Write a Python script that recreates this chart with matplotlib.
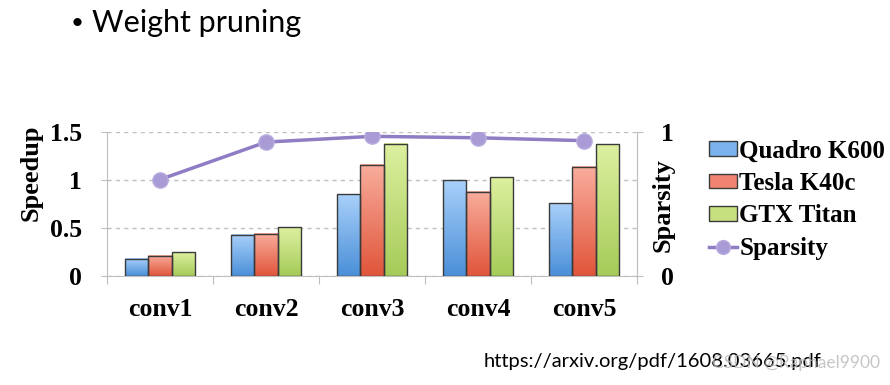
import matplotlib
matplotlib.use("Agg")
import matplotlib.pyplot as plt
from matplotlib.colors import LinearSegmentedColormap
from matplotlib.patches import Patch
from matplotlib.lines import Line2D
import numpy as np

layers = ["conv1", "conv2", "conv3", "conv4", "conv5"]
quadro = [0.18, 0.43, 0.85, 1.00, 0.76]
tesla = [0.21, 0.44, 1.16, 0.88, 1.14]
titan = [0.25, 0.51, 1.38, 1.03, 1.37]
sparsity = [0.67, 0.93, 0.97, 0.96, 0.94]
names = ["Quadro K600", "Tesla K40c", "GTX Titan"]

# (bottom, top) gradient colours for each series
grads = [("#4a8fd8", "#a9d0fa"), ("#e0553a", "#f9ad9d"), ("#a5cb58", "#ddf0a0")]
solid = ["#7ab2ee", "#f08470", "#c6e07f"]

serif = "Liberation Serif"
grey = "#bfbfbf"

fig = plt.figure(figsize=(8.9, 3.85), dpi=100)
ax = fig.add_axes([0.1202, 0.2831, 0.5955, 0.374])

x = np.arange(len(layers))
w = 0.222
series = [quadro, tesla, titan]
grad = np.linspace(0, 1, 256).reshape(-1, 1)
for i, vals in enumerate(series):
    cmap = LinearSegmentedColormap.from_list("g%d" % i, grads[i])
    pos = x + (i - 1) * w
    for px, v in zip(pos, vals):
        ax.imshow(grad, extent=[px - w / 2, px + w / 2, 0, v], origin="lower",
                  aspect="auto", cmap=cmap, zorder=2)
    ax.bar(pos, vals, w, facecolor="none", edgecolor="#3a3a3a", lw=1, zorder=3)

ax.set_xlim(-0.5, 4.5)
ax.set_ylim(0, 1.5)
ax.set_yticks([0, 0.5, 1, 1.5])
ax.set_yticklabels(["0", "0.5", "1", "1.5"], fontfamily=serif, fontweight="bold", fontsize=18.5)
ax.set_xticks(np.arange(-0.5, 5, 1))
ax.set_xticklabels([])
ax.set_xticks(x, minor=True)
ax.set_xticklabels(layers, minor=True, fontfamily=serif, fontweight="bold", fontsize=18.5)
ax.tick_params(axis="x", which="major", length=6, color=grey, direction="out")
ax.tick_params(axis="x", which="minor", length=0, pad=16)
ax.tick_params(axis="y", length=4, color=grey, direction="out", pad=14)
ax.spines["top"].set_visible(False)
for s in ["left", "bottom", "right"]:
    ax.spines[s].set_color(grey)
ax.yaxis.grid(True, ls=(0, (3, 3)), color=grey, lw=1)
ax.set_axisbelow(True)
ax.set_ylabel("Speedup", fontfamily=serif, fontweight="bold", fontsize=19)
ax.yaxis.set_label_coords(-0.121, 0.715)

ax2 = ax.twinx()
ax2.plot(x, sparsity, color="#8f7cc4", lw=2.5, marker="o", ms=11,
         mfc="#a99bd6", mec="#b9addf", mew=1, zorder=5)
ax2.set_ylim(0, 1)
ax2.set_yticks([0, 1])
ax2.set_yticklabels(["0", "1"], fontfamily=serif, fontweight="bold", fontsize=18.5)
ax2.tick_params(axis="y", length=4, color=grey, pad=13)
for s in ["top", "left", "bottom"]:
    ax2.spines[s].set_visible(False)
ax2.spines["right"].set_color(grey)
ax2.set_ylabel("Sparsity", fontfamily=serif, fontweight="bold", fontsize=19)
ax2.yaxis.set_label_coords(1.028, 0.49)

handles = [Patch(facecolor=solid[i], edgecolor="#3a3a3a", lw=1) for i in range(3)]
handles.append(Line2D([], [], color="#8f7cc4", lw=2.5, marker="o", ms=10,
                      mfc="#a99bd6", mec="#b9addf"))
fig.legend(handles, names + ["Sparsity"], loc="upper left", bbox_to_anchor=(0.797, 0.638),
           frameon=False, prop={"family": serif, "weight": "bold", "size": 18},
           handlelength=1.1, handleheight=0.5, handletextpad=0.1, labelspacing=0.38,
           borderpad=0, borderaxespad=0)

fig.text(0.079, 0.94, "\u2022", fontfamily="Lato", fontsize=16, va="center")
fig.text(0.103, 0.94, "Weight pruning", fontfamily="Lato", fontsize=22, va="center")
fig.text(0.543, 0.06, "https://arxiv.org/pdf/1608.03665.pdf", fontfamily="Lato", fontsize=14.5, va="center")
fig.text(0.80, 0.058, "CSDN @Raphael9900", fontfamily="Lato", fontsize=12.5, va="center",
         color="#b8b8b8", alpha=0.8)

fig.savefig("out.png", dpi=100)
